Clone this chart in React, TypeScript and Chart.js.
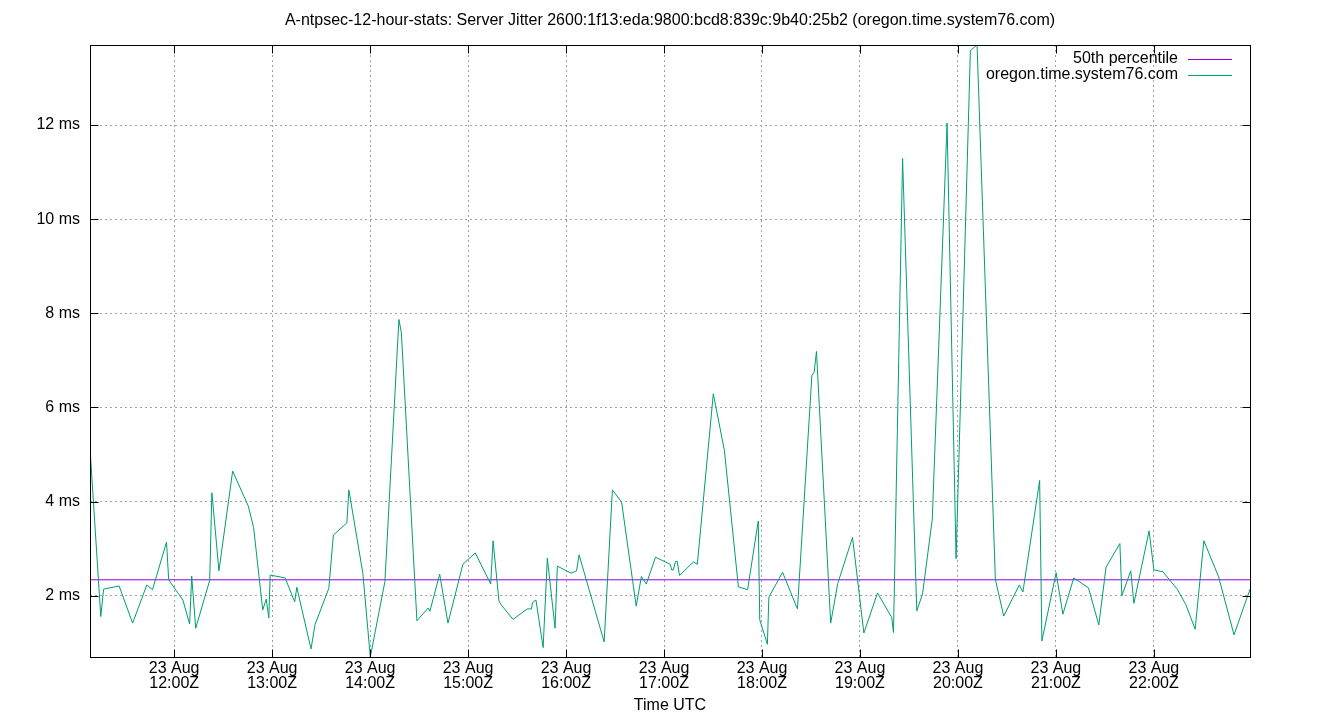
import React, { useEffect, useRef } from "react";
import { Chart, registerables } from "chart.js";

Chart.register(...registerables);

// Sample times (hours UTC on 23 Aug) and server jitter (ms)
const TIMES_H = [
  11.141, 11.251, 11.28, 11.438, 11.576, 11.721, 11.779, 11.922, 11.944, 12.089,
  12.158, 12.179, 12.22, 12.363, 12.385, 12.457, 12.597, 12.756, 12.811, 12.904,
  12.94, 12.966, 12.98, 13.133, 13.23, 13.252, 13.397, 13.438, 13.579, 13.625,
  13.763, 13.783, 13.926, 14.002, 14.151, 14.294, 14.319, 14.478, 14.593, 14.61,
  14.71, 14.795, 14.947, 15.073, 15.231, 15.255, 15.315, 15.337, 15.459, 15.604,
  15.647, 15.657, 15.693, 15.766, 15.809, 15.888, 15.911, 16.052, 16.107, 16.133,
  16.389, 16.473, 16.567, 16.716, 16.769, 16.819, 16.913, 17.063, 17.078, 17.095,
  17.117, 17.135, 17.158, 17.299, 17.34, 17.503, 17.616, 17.759, 17.853, 17.962,
  17.977, 18.055, 18.07, 18.21, 18.362, 18.509, 18.532, 18.556, 18.701, 18.773,
  18.924, 19.04, 19.179, 19.324, 19.342, 19.435, 19.58, 19.639, 19.738, 19.889,
  19.981, 20.127, 20.195, 20.382, 20.467, 20.627, 20.663, 20.834, 20.857, 21.002,
  21.071, 21.182, 21.332, 21.438, 21.512, 21.653, 21.673, 21.764, 21.796, 21.951,
  22.0, 22.092, 22.239, 22.327, 22.421, 22.51, 22.661, 22.818, 22.981,
];
const JITTER_MS = [
  5.13, 1.56, 2.14, 2.21, 1.42, 2.23, 2.13, 3.14, 2.34, 1.91,
  1.4, 2.42, 1.31, 2.33, 4.19, 2.53, 4.65, 3.91, 3.45, 1.7,
  1.93, 1.53, 2.44, 2.38, 1.87, 2.18, 0.87, 1.39, 2.16, 3.29,
  3.55, 4.25, 2.48, 0.7, 2.3, 7.87, 7.59, 1.47, 1.74, 1.67,
  2.46, 1.42, 2.67, 2.91, 2.25, 3.17, 1.89, 1.81, 1.5, 1.72,
  1.72, 1.86, 1.91, 0.9, 2.8, 1.31, 2.63, 2.48, 2.53, 2.87,
  1.02, 4.25, 3.99, 1.78, 2.41, 2.25, 2.82, 2.67, 2.55, 2.55,
  2.73, 2.73, 2.43, 2.72, 2.67, 6.29, 5.09, 2.19, 2.13, 3.59,
  1.49, 0.97, 1.97, 2.5, 1.72, 6.68, 6.75, 7.19, 1.42, 2.26,
  3.24, 1.21, 2.06, 1.54, 1.22, 11.29, 1.68, 2.04, 3.63, 12.04,
  2.79, 13.58, 13.7, 2.35, 1.57, 2.23, 2.08, 4.45, 1.04, 2.49,
  1.61, 2.38, 2.17, 1.38, 2.61, 3.11, 2.0, 2.53, 1.84, 3.38,
  2.55, 2.51, 2.14, 1.81, 1.29, 3.17, 2.4, 1.17, 2.14,
];
const P50_MS = 2.34;

const HOUR_TICKS = [12, 13, 14, 15, 16, 17, 18, 19, 20, 21, 22];
const MS_TICKS = [2, 4, 6, 8, 10, 12];
const DAY_LABEL = "23 Aug";

const TITLE =
  "A-ntpsec-12-hour-stats: Server Jitter 2600:1f13:eda:9800:bcd8:839c:9b40:25b2 (oregon.time.system76.com)";
const X_TITLE = "Time UTC";
const SERIES_NAME = "oregon.time.system76.com";
const P50_NAME = "50th percentile";

const GREEN = "#009e73";
const PURPLE = "#9400d3";
const FONT = "'Liberation Sans', Arial, sans-serif";

const framePlugin = {
  id: "gnuplotFrame",
  beforeDraw(chart: any) {
    const ctx = chart.ctx;
    ctx.save();
    ctx.fillStyle = "#ffffff";
    ctx.fillRect(0, 0, chart.width, chart.height);
    ctx.restore();
  },
  afterDraw(chart: any) {
    const ctx = chart.ctx;
    const a = chart.chartArea;
    const xs = chart.scales.x;
    const ys = chart.scales.y;
    ctx.save();
    ctx.strokeStyle = "#000";
    ctx.lineWidth = 1;
    ctx.setLineDash([]);
    const L = Math.round(a.left) + 0.5;
    const R = Math.round(a.right) + 0.5;
    const T = Math.round(a.top) + 0.5;
    const B = Math.round(a.bottom) + 0.5;
    ctx.strokeRect(L, T, R - L, B - T);
    const tk = 8;
    ctx.beginPath();
    HOUR_TICKS.forEach((h) => {
      const px = Math.round(xs.getPixelForValue(h)) + 0.5;
      ctx.moveTo(px, B);
      ctx.lineTo(px, B - tk);
      ctx.moveTo(px, T);
      ctx.lineTo(px, T + tk);
    });
    MS_TICKS.forEach((v) => {
      const py = Math.round(ys.getPixelForValue(v)) + 0.5;
      ctx.moveTo(L, py);
      ctx.lineTo(L + tk, py);
      ctx.moveTo(R, py);
      ctx.lineTo(R - tk, py);
    });
    ctx.stroke();

    // title
    ctx.fillStyle = "#000";
    ctx.font = `16px ${FONT}`;
    ctx.textAlign = "center";
    ctx.textBaseline = "middle";
    ctx.fillText(TITLE, (a.left + a.right) / 2, 21);

    // x axis title
    ctx.font = `16px ${FONT}`;
    ctx.fillText(X_TITLE, (a.left + a.right) / 2, 706);

    // legend
    const items = [
      { name: P50_NAME, color: PURPLE },
      { name: SERIES_NAME, color: GREEN },
    ];
    ctx.textAlign = "right";
    items.forEach((it, i) => {
      const y = a.top + 14 + i * 16;
      ctx.fillStyle = "#000";
      ctx.fillText(it.name, a.right - 72, y);
      ctx.strokeStyle = it.color;
      ctx.lineWidth = 1;
      ctx.beginPath();
      ctx.moveTo(a.right - 62, Math.round(y) + 0.5);
      ctx.lineTo(a.right - 18, Math.round(y) + 0.5);
      ctx.stroke();
    });
    ctx.restore();
  },
};

export default function App() {
  const ref = useRef<HTMLCanvasElement | null>(null);
  useEffect(() => {
    if (!ref.current) return;
    const series = TIMES_H.map((t, i) => ({ x: t, y: JITTER_MS[i] }));
    const tMin = Math.min(...TIMES_H);
    const tMax = Math.max(...TIMES_H);
    const chart = new Chart(ref.current, {
      type: "line",
      data: {
        datasets: [
          {
            label: SERIES_NAME,
            data: series,
            borderColor: GREEN,
            borderWidth: 1,
            pointRadius: 0,
            tension: 0,
          },
          {
            label: P50_NAME,
            data: [
              { x: tMin, y: P50_MS },
              { x: tMax, y: P50_MS },
            ],
            borderColor: PURPLE,
            borderWidth: 1,
            pointRadius: 0,
          },
        ],
      },
      options: {
        animation: false,
        responsive: false,
        devicePixelRatio: 1,
        layout: { padding: { left: 0, right: 90, top: 45, bottom: 0 } },
        plugins: {
          legend: { display: false },
          title: { display: false },
          tooltip: { enabled: false },
        },
        scales: {
          x: {
            type: "linear",
            min: tMin,
            max: tMax,
            afterFit: (s: any) => {
              s.height = 63;
            },
            afterBuildTicks: (s: any) => {
              s.ticks = HOUR_TICKS.map((v) => ({ value: v }));
            },
            grid: {
              color: "#a0a0a0",
              lineWidth: 1,
              drawTicks: false,
            },
            border: { display: false, dash: [2, 3] },
            ticks: {
              autoSkip: false,
              maxRotation: 0,
              padding: 4,
              color: "#000",
              font: { family: FONT, size: 16, lineHeight: 0.95 },
              callback: (v: any) => [DAY_LABEL, `${v}:00Z`],
            },
          },
          y: {
            type: "linear",
            min: Math.min(...JITTER_MS),
            max: Math.max(...JITTER_MS),
            afterFit: (s: any) => {
              s.width = 90;
            },
            afterBuildTicks: (s: any) => {
              s.ticks = MS_TICKS.map((v) => ({ value: v }));
            },
            grid: {
              color: "#a0a0a0",
              lineWidth: 1,
              drawTicks: false,
            },
            border: { display: false, dash: [2, 3] },
            ticks: {
              padding: 10,
              color: "#000",
              font: { family: FONT, size: 16 },
              callback: (v: any) => `${v} ms`,
            },
          },
        },
      },
      plugins: [framePlugin],
    });
    return () => chart.destroy();
  }, []);
  return (
    <div style={{ position: "fixed", left: 0, top: 0, width: 1340, height: 720, background: "#fff" }}>
      <canvas ref={ref} width={1340} height={720} style={{ width: 1340, height: 720, display: "block" }} />
    </div>
  );
}
